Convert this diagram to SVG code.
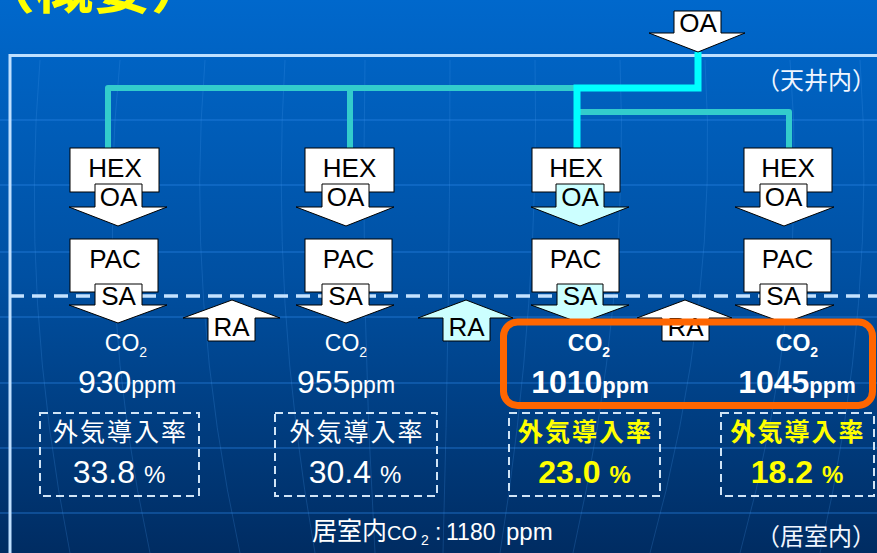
<svg xmlns="http://www.w3.org/2000/svg" width="877" height="553" viewBox="0 0 877 553">
<defs>
<linearGradient id="bg" x1="0" y1="0" x2="0" y2="1">
<stop offset="0" stop-color="#0068cc"/>
<stop offset="0.5" stop-color="#0050a2"/>
<stop offset="1" stop-color="#002c62"/>
</linearGradient>
<style>
.grid{stroke:#2a86e6;stroke-width:1.5;opacity:0.45;fill:none}
.curve{stroke:#4a9aee;stroke-width:1;opacity:0.22;fill:none}
.box{fill:#ffffff;stroke:#000000;stroke-width:1}
.cy{fill:#ccffff;stroke:#000000;stroke-width:1}
.lbl{font-family:"Liberation Sans",Arial,sans-serif;font-size:26px;fill:#000000;text-anchor:middle}
.teal{stroke:#33cccc;stroke-width:6;fill:none;stroke-linejoin:round}
.cyan{stroke:#00ffff;stroke-width:7;fill:none;stroke-linejoin:miter}
.w{font-family:"Liberation Sans","Noto Sans CJK JP",sans-serif;fill:#ffffff;text-anchor:middle}
.y{font-family:"Liberation Sans","Noto Sans CJK JP",sans-serif;fill:#ffff00;text-anchor:middle;font-weight:bold}
.jp{font-family:"Noto Sans CJK JP",sans-serif}
.zone{font-family:"Noto Sans CJK JP",sans-serif;font-size:24px;fill:#f0f6ff;text-anchor:end}
.dash{fill:none;stroke:#d0e4f6;stroke-width:2;stroke-dasharray:8 5}
</style>
</defs>
<rect x="0" y="0" width="877" height="553" fill="url(#bg)"/>
<g id="background-grid">
<path class="grid" d="M0 120H877M0 185H877M0 252H877M0 317H877M0 383H877M0 448H877M0 513H877"/>
<path class="curve" d="M40 60 Q20 300 70 553M120 60 Q95 300 150 553M205 60 Q185 300 240 553M285 60 Q270 300 315 553M365 60 Q360 300 375 553M450 60 Q450 300 443 553M535 60 Q540 300 500 553M620 60 Q630 300 573 553M705 60 Q720 300 650 553M790 60 Q810 300 740 553M860 60 Q877 300 820 553"/>
</g>
<text x="-23" y="8" font-family="Noto Sans CJK JP,sans-serif" font-size="58" font-weight="bold" fill="#ffff00">（概要）</text>
<g id="frame">
<path d="M10 553V55.5H877" fill="none" stroke="#bfe0ff" stroke-width="3"/>
<line x1="10" y1="296" x2="877" y2="296" stroke="#c4e2ff" stroke-width="3.5" stroke-dasharray="14 8"/>
</g>
<g id="zone-labels">
<text class="zone" x="876" y="89">（天井内）</text>
<text class="zone" x="876" y="545">（居室内）</text>
</g>
<g id="connectors">
<path class="teal" d="M108 148V88H577"/>
<path class="teal" d="M350 148V88"/>
<path class="teal" d="M577 112H789V148"/>
<path class="cyan" d="M698 52V88H577V148"/>
</g>
<g id="oa-intake">
<path class="box" d="M674 11H721V33H745L698 52L649 33H674Z"/>
<text class="lbl" x="698" y="32">OA</text>
</g>
<g id="hex1">
<rect class="box" x="70" y="148" width="89" height="44"/>
<text class="lbl" x="115" y="177">HEX</text>
<path class="box" d="M95 184H142V207H167L118 226L69 207H95Z"/>
<text class="lbl" x="118.5" y="206">OA</text>
</g>
<g id="hex2">
<rect class="box" x="305" y="148" width="89" height="44"/>
<text class="lbl" x="349.5" y="177">HEX</text>
<path class="box" d="M322 184H369V207H394L346 226L296 207H322Z"/>
<text class="lbl" x="345.5" y="206">OA</text>
</g>
<g id="hex3">
<rect class="box" x="532" y="148" width="88" height="44"/>
<text class="lbl" x="576" y="177">HEX</text>
<path class="cy" d="M556 184H604V207H629L580 226L531 207H556Z"/>
<text class="lbl" x="580" y="206">OA</text>
</g>
<g id="hex4">
<rect class="box" x="744" y="148" width="88" height="44"/>
<text class="lbl" x="788" y="177">HEX</text>
<path class="box" d="M760 184H807V207H834L784 226L735 207H760Z"/>
<text class="lbl" x="783.5" y="206">OA</text>
</g>
<g id="pac1">
<rect class="box" x="70" y="239" width="88" height="53"/>
<text class="lbl" x="115" y="268">PAC</text>
<path class="box" d="M95 284H142V305H167L118 323L69 305H95Z"/>
<text class="lbl" x="118.5" y="305">SA</text>
</g>
<g id="pac2">
<rect class="box" x="305" y="239" width="87" height="53"/>
<text class="lbl" x="348.5" y="268">PAC</text>
<path class="box" d="M322 284H369V305H394L346 323L296 305H322Z"/>
<text class="lbl" x="345.5" y="305">SA</text>
</g>
<g id="pac3">
<rect class="box" x="532" y="239" width="87" height="53"/>
<text class="lbl" x="575.5" y="268">PAC</text>
<path class="cy" d="M557 284H603V305H629L580 323L531 305H557Z"/>
<text class="lbl" x="580" y="305">SA</text>
</g>
<g id="pac4">
<rect class="box" x="744" y="239" width="87" height="53"/>
<text class="lbl" x="787.5" y="268">PAC</text>
<path class="box" d="M760 284H807V305H834L784 323L735 305H760Z"/>
<text class="lbl" x="783.5" y="305">SA</text>
</g>
<g id="ra1">
<path class="box" d="M208 341V318H183L232 300L280 318H255V341Z"/>
<text class="lbl" x="231.5" y="336">RA</text>
</g>
<g id="ra2">
<path class="cy" d="M443 341V318H418L466 300L513 318H490V341Z"/>
<text class="lbl" x="466.5" y="336">RA</text>
</g>
<g id="ra3">
<path class="box" d="M662 341V318H637L685 300L732 318H709V341Z"/>
<text class="lbl" x="685.5" y="336">RA</text>
</g>
<g id="room1">
<text class="w" x="126" y="351"><tspan font-size="23">CO</tspan><tspan font-size="14" dy="6">2</tspan></text>
<text class="w" x="127" y="393"><tspan font-size="32">930</tspan><tspan font-size="23">ppm</tspan></text>
<rect class="dash" x="40" y="413" width="159" height="83"/>
<text class="w jp" x="120.5" y="441" font-size="25" letter-spacing="2">外気導入率</text>
<text class="w" x="119" y="483"><tspan font-size="32">33.8 </tspan><tspan font-size="24">%</tspan></text>
</g>
<g id="room2">
<text class="w" x="346" y="351"><tspan font-size="23">CO</tspan><tspan font-size="14" dy="6">2</tspan></text>
<text class="w" x="346" y="393"><tspan font-size="32">955</tspan><tspan font-size="23">ppm</tspan></text>
<rect class="dash" x="275" y="413" width="162" height="83"/>
<text class="w jp" x="357" y="441" font-size="25" letter-spacing="2">外気導入率</text>
<text class="w" x="355" y="483"><tspan font-size="32">30.4 </tspan><tspan font-size="24">%</tspan></text>
</g>
<g id="room3">
<text class="w" x="589" y="351" font-weight="bold"><tspan font-size="23">CO</tspan><tspan font-size="14" dy="6">2</tspan></text>
<text class="w" x="590" y="393" font-weight="bold"><tspan font-size="32">1010</tspan><tspan font-size="22">ppm</tspan></text>
<rect class="dash" x="509" y="413" width="151" height="83"/>
<text class="y jp" x="585.5" y="441" font-size="25" letter-spacing="2">外気導入率</text>
<text class="y" x="584.5" y="483"><tspan font-size="32">23.0 </tspan><tspan font-size="24">%</tspan></text>
</g>
<g id="room4">
<text class="w" x="797" y="351" font-weight="bold"><tspan font-size="23">CO</tspan><tspan font-size="14" dy="6">2</tspan></text>
<text class="w" x="797" y="393" font-weight="bold"><tspan font-size="32">1045</tspan><tspan font-size="22">ppm</tspan></text>
<rect class="dash" x="721" y="413" width="153" height="83"/>
<text class="y jp" x="798" y="441" font-size="25" letter-spacing="2">外気導入率</text>
<text class="y" x="797" y="483"><tspan font-size="32">18.2 </tspan><tspan font-size="24">%</tspan></text>
</g>
<g id="highlight">
<rect x="503.5" y="322" width="369" height="83.5" rx="14" fill="none" stroke="#ff6600" stroke-width="7"/>
</g>
<g id="room-average">
<text x="312" y="540" font-family="Liberation Sans,Noto Sans CJK JP,sans-serif" fill="#ffffff"><tspan class="jp" font-size="25">居室内</tspan><tspan x="387" font-size="20">CO</tspan><tspan x="421" font-size="14" dy="5">2</tspan><tspan x="435" font-size="23" dy="-5">:</tspan><tspan x="446" font-size="23">1180</tspan><tspan x="506" font-size="24">ppm</tspan></text>
</g>
</svg>
